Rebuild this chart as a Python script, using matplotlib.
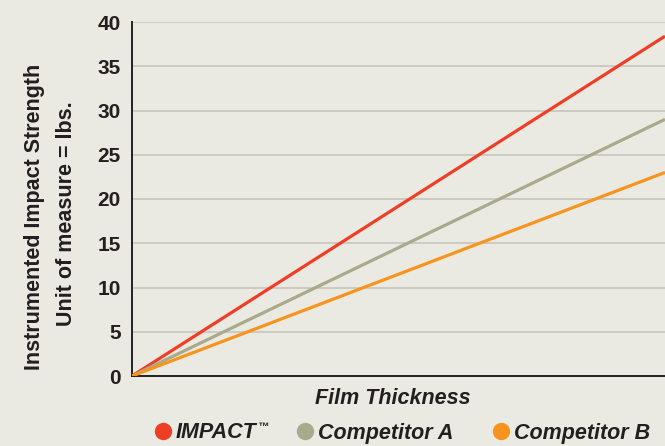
import matplotlib
matplotlib.use("Agg")
import matplotlib.pyplot as plt
from matplotlib.lines import Line2D

plt.rcParams['font.family'] = ['Liberation Sans', 'DejaVu Sans']

series = ["IMPACT", "Competitor A", "Competitor B"]
x_vals = [0, 1]
impact = [0, 38.4]
comp_a = [0, 29.0]
comp_b = [0, 23.0]
colors = ["#ef3e26", "#aba98b", "#f7941e"]
yticks = [0, 5, 10, 15, 20, 25, 30, 35, 40]

bg = "#ebeae2"
ink = '#231f20'
fig = plt.figure(figsize=(6.65, 4.46), dpi=100, facecolor=bg)
ax = fig.add_axes([132/665, 1-376/446, 1-132/665, (376-22)/446])
ax.set_facecolor(bg)

for vals, c in zip([impact, comp_a, comp_b], colors):
    ax.plot(x_vals, vals, color=c, lw=2.3, solid_capstyle='butt', zorder=3)

ax.set_xlim(0, 1)
ax.set_ylim(0, 40)
ax.set_yticks(yticks)
ax.set_xticks([])
ax.grid(axis='y', color='#c6c5bd', lw=1.2, zorder=0)
ax.set_axisbelow(True)
for s in ['top', 'right']:
    ax.spines[s].set_visible(False)
for s in ['left', 'bottom']:
    ax.spines[s].set_color('#222222')
    ax.spines[s].set_linewidth(1.4)
ax.tick_params(axis='y', length=0, pad=8, labelsize=15, labelcolor=ink)
for lbl in ax.get_yticklabels():
    lbl.set_fontweight('bold')

fig.text(35/665, 1-217/446, "Instrumented Impact Strength", rotation=90,
         ha='center', va='center', fontsize=15.5, fontweight='bold', color=ink)
fig.text(66/665, 1-214/446, "Unit of measure = lbs.", rotation=90,
         ha='center', va='center', fontsize=15.5, fontweight='bold', color=ink)

fig.text(393/665, 1-398/446, "Film Thickness", ha='center', va='center',
         fontsize=15.5, fontweight='bold', fontstyle='italic', color=ink)

lefts = [150, 292, 488]
legs = []
for name, c, xl in zip(series, colors, lefts):
    h = Line2D([], [], ls='none', marker='o', markersize=12.5, color=c,
               markeredgewidth=0)
    leg = fig.legend([h], [name], loc='center left',
                     bbox_to_anchor=(xl/665, 1-433/446),
                     frameon=False, handletextpad=0.0, handlelength=1.2,
                     borderpad=0, borderaxespad=0,
                     prop={'weight': 'bold', 'style': 'italic', 'size': 15.5})
    for t in leg.get_texts():
        t.set_color(ink)
    legs.append(leg)

# trademark superscript after IMPACT
fig.canvas.draw()
bb = legs[0].get_texts()[0].get_window_extent()
x_tm = bb.x1 / fig.bbox.width
y_tm = bb.y1 / fig.bbox.height
fig.text(x_tm + 1/665, y_tm + 1/446, "™", ha='left', va='top', fontsize=8,
         fontweight='bold', fontstyle='italic', color=ink)

fig.savefig("out.png", dpi=100, facecolor=bg)
